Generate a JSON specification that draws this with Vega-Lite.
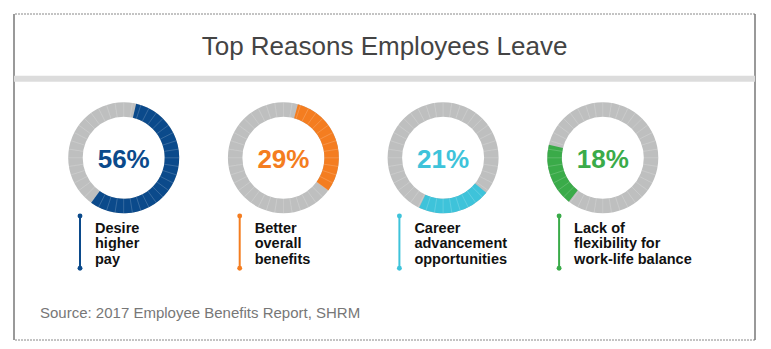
{
  "$schema": "https://vega.github.io/schema/vega-lite/v6.json",
  "width": 741,
  "height": 326,
  "autosize": "none",
  "padding": {"left": 14, "top": 14, "right": 16, "bottom": 9},
  "background": "white",
  "config": {"view": {"stroke": null}},
  "datasets": {
    "reasons": [
      {"reason": "Desire higher pay", "label": "Desire\nhigher\npay", "pct": 0.56, "start": 3.6, "end": 60.0, "ticks": [0,2.5,5,7.5,10,12.5,15,17.5,20,22.5,25,27.5,30,32.5,35,37.5,40,42.5,45,47.5,50,52.5,55,57.5,60,62.5,65,67.5,70,72.5,75,77.5,80,82.5,85,87.5,90,92.5,95,97.5]},
      {"reason": "Better overall benefits", "label": "Better\noverall\nbenefits", "pct": 0.29, "start": 4.2, "end": 35.0, "ticks": [0,2.5,5,7.5,10,12.5,15,17.5,20,22.5,25,27.5,30,32.5,35,37.5,40,42.5,45,47.5,50,52.5,55,57.5,60,62.5,65,67.5,70,72.5,75,77.5,80,82.5,85,87.5,90,92.5,95,97.5]},
      {"reason": "Career advancement opportunities", "label": "Career\nadvancement\nopportunities", "pct": 0.21, "start": 35.8, "end": 57.1, "ticks": [0,2.5,5,7.5,10,12.5,15,17.5,20,22.5,25,27.5,30,32.5,35,37.5,40,42.5,45,47.5,50,52.5,55,57.5,60,62.5,65,67.5,70,72.5,75,77.5,80,82.5,85,87.5,90,92.5,95,97.5]},
      {"reason": "Lack of flexibility for work-life balance", "label": "Lack of\nflexibility for\nwork-life balance", "pct": 0.18, "start": 60.5, "end": 78.8, "ticks": [0,2.5,5,7.5,10,12.5,15,17.5,20,22.5,25,27.5,30,32.5,35,37.5,40,42.5,45,47.5,50,52.5,55,57.5,60,62.5,65,67.5,70,72.5,75,77.5,80,82.5,85,87.5,90,92.5,95,97.5]}
    ],
    "texts": [
      {"title": "Top Reasons Employees Leave", "source": "Source: 2017 Employee Benefits Report, SHRM"}
    ]
  },
  "layer": [
    {
      "data": {"name": "texts"},
      "mark": {"type": "rule", "stroke": "#888888", "strokeWidth": 1, "strokeDash": [2, 1]},
      "encoding": {"y": {"datum": 0, "type": "quantitative", "scale": {"domain": [0, 100], "reverse": true, "nice": false, "zero": false}, "axis": null}}
    },
    {
      "data": {"name": "texts"},
      "mark": {"type": "rule", "stroke": "#888888", "strokeWidth": 1, "strokeDash": [2, 1]},
      "encoding": {"y": {"datum": 100, "type": "quantitative"}}
    },
    {
      "data": {"name": "texts"},
      "mark": {"type": "rule", "stroke": "#777777", "strokeWidth": 1.5},
      "encoding": {"x": {"value": 0}, "y": {"datum": 0, "type": "quantitative"}, "y2": {"datum": 100}}
    },
    {
      "data": {"name": "texts"},
      "mark": {"type": "rule", "stroke": "#777777", "strokeWidth": 1.5},
      "encoding": {"x": {"value": "width"}, "y": {"datum": 0, "type": "quantitative"}, "y2": {"datum": 100}}
    },
    {
      "data": {"name": "texts"},
      "mark": {"type": "rule", "stroke": "#dcdcdc", "strokeWidth": 6},
      "encoding": {"y": {"datum": 19.88, "type": "quantitative"}}
    },
    {
      "data": {"name": "texts"},
      "mark": {"type": "text", "font": "Liberation Sans", "fontSize": 26, "color": "#444444", "align": "center", "baseline": "alphabetic"},
      "encoding": {"y": {"datum": 12.58, "type": "quantitative"}, "text": {"field": "title"}}
    },
    {
      "data": {"name": "texts"},
      "mark": {"type": "text", "font": "Liberation Sans", "fontSize": 15, "color": "#777777", "align": "left", "baseline": "alphabetic", "dx": -344.5},
      "encoding": {"y": {"datum": 93.4, "type": "quantitative"}, "text": {"field": "source"}}
    },
    {
      "data": {"name": "reasons"},
      "mark": {"type": "arc", "outerRadius": 55.5, "innerRadius": 41, "fill": "#bebfbf", "theta": 0, "theta2": 6.2832},
      "encoding": {
        "x": {"field": "reason", "type": "nominal", "sort": null, "scale": {"type": "point", "range": [109.7, 588.8], "padding": 0}, "axis": null},
        "y": {"datum": 44.11, "type": "quantitative"}
      }
    },
    {
      "data": {"name": "reasons"},
      "mark": {"type": "arc", "outerRadius": 55.5, "innerRadius": 41},
      "encoding": {
        "x": {"field": "reason", "type": "nominal", "sort": null},
        "y": {"datum": 44.11, "type": "quantitative"},
        "theta": {"field": "start", "type": "quantitative", "stack": null, "scale": {"domain": [0, 100], "zero": false, "nice": false}},
        "theta2": {"field": "end"},
        "color": {"field": "reason", "type": "nominal", "sort": null, "legend": null,
          "scale": {"domain": ["Desire higher pay", "Better overall benefits", "Career advancement opportunities", "Lack of flexibility for work-life balance"],
                    "range": ["#0b4a8b", "#f47d20", "#3ec3da", "#3aab49"]}}
      }
    },
    {
      "data": {"name": "reasons"},
      "transform": [{"flatten": ["ticks"], "as": ["tick"]}],
      "mark": {"type": "arc", "outerRadius": 55.5, "innerRadius": 41, "fill": null, "stroke": "white", "strokeWidth": 0.6, "strokeOpacity": 0.16},
      "encoding": {
        "x": {"field": "reason", "type": "nominal", "sort": null},
        "y": {"datum": 44.11, "type": "quantitative"},
        "theta": {"field": "tick", "type": "quantitative", "stack": null},
        "theta2": {"field": "tick"}
      }
    },
    {
      "data": {"name": "reasons"},
      "mark": {"type": "text", "font": "Liberation Sans", "fontSize": 26, "fontWeight": "bold", "align": "center", "baseline": "alphabetic"},
      "encoding": {
        "x": {"field": "reason", "type": "nominal", "sort": null},
        "y": {"datum": 47.15, "type": "quantitative"},
        "text": {"field": "pct", "type": "quantitative", "format": ".0%"},
        "color": {"field": "reason", "type": "nominal", "sort": null, "legend": null}
      }
    },
    {
      "data": {"name": "reasons"},
      "mark": {"type": "rule", "strokeWidth": 2, "xOffset": -43.7},
      "encoding": {
        "x": {"field": "reason", "type": "nominal", "sort": null},
        "y": {"datum": 61.96, "type": "quantitative"},
        "y2": {"datum": 78.01},
        "color": {"field": "reason", "type": "nominal", "sort": null, "legend": null}
      }
    },
    {
      "data": {"name": "reasons"},
      "mark": {"type": "circle", "size": 24, "opacity": 1, "xOffset": -43.7},
      "encoding": {
        "x": {"field": "reason", "type": "nominal", "sort": null},
        "y": {"datum": 61.96, "type": "quantitative"},
        "color": {"field": "reason", "type": "nominal", "sort": null, "legend": null}
      }
    },
    {
      "data": {"name": "reasons"},
      "mark": {"type": "circle", "size": 24, "opacity": 1, "xOffset": -43.7},
      "encoding": {
        "x": {"field": "reason", "type": "nominal", "sort": null},
        "y": {"datum": 78.01, "type": "quantitative"},
        "color": {"field": "reason", "type": "nominal", "sort": null, "legend": null}
      }
    },
    {
      "data": {"name": "reasons"},
      "mark": {"type": "text", "font": "Liberation Sans", "fontSize": 14.5, "fontWeight": "bold", "color": "#111111", "align": "left", "baseline": "alphabetic", "dx": -28.7, "lineBreak": "\n", "lineHeight": 15.5},
      "encoding": {
        "x": {"field": "reason", "type": "nominal", "sort": null},
        "y": {"datum": 67.09, "type": "quantitative"},
        "text": {"field": "label"}
      }
    }
  ]
}
